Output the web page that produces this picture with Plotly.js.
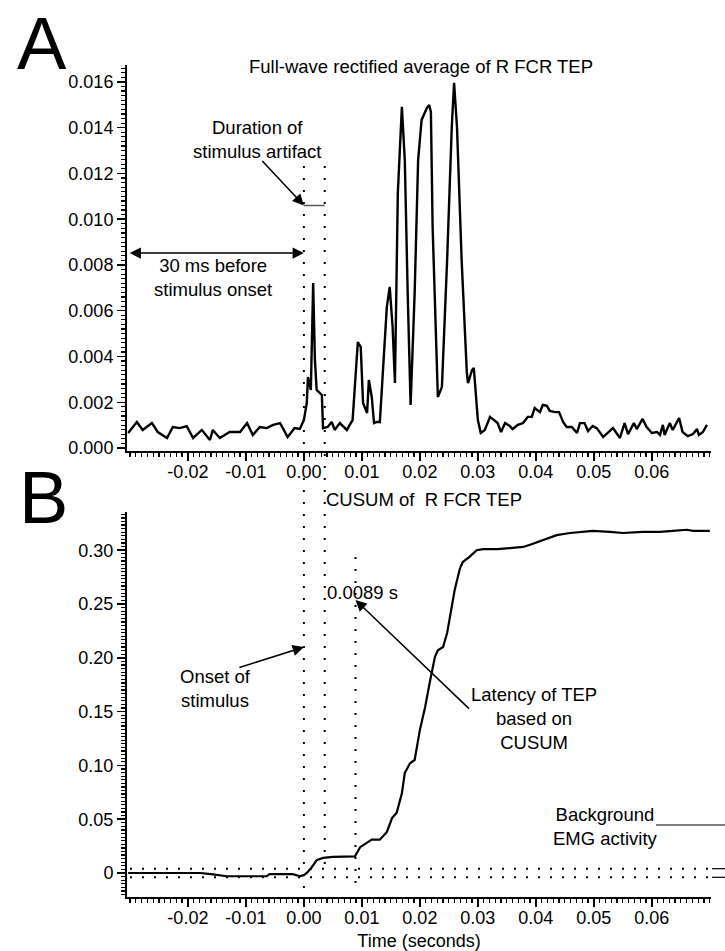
<!DOCTYPE html>
<html>
<head>
<meta charset="utf-8">
<script src="https://cdn.plot.ly/plotly-3.0.1.min.js"></script>
<style>html,body{margin:0;padding:0;background:#fff;}#chart{width:725px;height:951px;}</style>
</head>
<body>
<div id="chart"></div>
<script>
// ---------- data (time in seconds) ----------
const rectTime = [-0.0303,-0.0288,-0.0278,-0.0262,-0.0252,-0.0236,-0.0226,-0.0214,-0.0202,-0.0191,-0.0176,-0.0162,-0.0157,-0.0145,-0.0128,-0.0110,-0.0098,-0.0088,-0.0076,-0.0064,-0.0053,-0.0041,-0.0028,-0.0016,-0.0007,0.0000,0.0005,0.0007,0.0012,0.0016,0.0019,0.0022,0.0031,0.0033,0.0041,0.0048,0.0053,0.0062,0.0074,0.0084,0.0093,0.0098,0.0102,0.0109,0.0112,0.0117,0.0121,0.0126,0.0131,0.0136,0.0143,0.0148,0.0153,0.0157,0.0162,0.0169,0.0174,0.0179,0.0184,0.0191,0.0197,0.0203,0.0212,0.0216,0.0219,0.0222,0.0231,0.0238,0.0247,0.0255,0.0259,0.0264,0.0272,0.0281,0.0283,0.0290,0.0293,0.0300,0.0305,0.0312,0.0321,0.0328,0.0334,0.0340,0.0347,0.0355,0.0360,0.0369,0.0378,0.0386,0.0393,0.0398,0.0407,0.0412,0.0419,0.0424,0.0433,0.0440,0.0447,0.0453,0.0462,0.0471,0.0476,0.0484,0.0490,0.0498,0.0505,0.0516,0.0524,0.0533,0.0545,0.0553,0.0559,0.0569,0.0574,0.0584,0.0591,0.0600,0.0609,0.0614,0.0619,0.0622,0.0631,0.0636,0.0647,0.0653,0.0662,0.0671,0.0678,0.0681,0.0688,0.0695];
const rectValue = [0.00066,0.00114,0.00079,0.00109,0.00070,0.00044,0.00092,0.00087,0.00096,0.00044,0.00079,0.00035,0.00079,0.00044,0.00070,0.00070,0.00109,0.00057,0.00092,0.00087,0.00101,0.00109,0.00048,0.00087,0.00083,0.00122,0.00197,0.00310,0.00254,0.00721,0.00385,0.00254,0.00232,0.00087,0.00092,0.00114,0.00079,0.00109,0.00079,0.00122,0.00463,0.00442,0.00197,0.00153,0.00297,0.00223,0.00109,0.00114,0.00114,0.00341,0.00616,0.00704,0.00529,0.00284,0.01115,0.01491,0.01259,0.00678,0.00188,0.00678,0.01259,0.01434,0.01486,0.01499,0.01469,0.00966,0.00223,0.00267,0.00822,0.01403,0.01596,0.01403,0.00822,0.00328,0.00284,0.00341,0.00350,0.00122,0.00066,0.00079,0.00136,0.00122,0.00109,0.00070,0.00109,0.00096,0.00083,0.00101,0.00109,0.00136,0.00136,0.00175,0.00157,0.00188,0.00184,0.00162,0.00157,0.00157,0.00114,0.00092,0.00092,0.00066,0.00109,0.00109,0.00074,0.00096,0.00087,0.00048,0.00066,0.00087,0.00044,0.00109,0.00061,0.00109,0.00083,0.00127,0.00092,0.00066,0.00070,0.00057,0.00101,0.00057,0.00109,0.00079,0.00131,0.00070,0.00052,0.00061,0.00083,0.00057,0.00070,0.00101];

const cusumTime = [-0.0303,-0.0248,-0.0179,-0.0160,-0.0133,-0.0100,-0.0064,-0.0059,-0.0019,-0.0007,0.0000,0.0005,0.0014,0.0022,0.0033,0.0050,0.0067,0.0088,0.0097,0.0109,0.0117,0.0131,0.0143,0.0152,0.0160,0.0169,0.0174,0.0183,0.0191,0.0200,0.0209,0.0217,0.0226,0.0231,0.0240,0.0247,0.0252,0.0260,0.0269,0.0274,0.0286,0.0298,0.0309,0.0333,0.0355,0.0378,0.0390,0.0412,0.0436,0.0459,0.0498,0.0528,0.0550,0.0584,0.0614,0.0636,0.0660,0.0671,0.0700];
const cusumValue = [0.000,0.000,0.000,-0.001,-0.003,-0.003,-0.003,-0.001,-0.001,-0.003,-0.002,0.000,0.0056,0.012,0.014,0.0149,0.015,0.0155,0.024,0.028,0.031,0.031,0.038,0.051,0.056,0.074,0.093,0.102,0.105,0.133,0.154,0.177,0.201,0.207,0.210,0.223,0.238,0.263,0.283,0.289,0.294,0.300,0.301,0.301,0.302,0.303,0.305,0.309,0.314,0.316,0.318,0.317,0.316,0.317,0.317,0.318,0.319,0.318,0.318];

// markers
const stimulusOnset = 0.0;
const artifactEnd = 0.0036;
const artifactLevel = 0.0106;
const latency = 0.0089;
const preWindowStart = -0.0303;
const preWindowLevel = 0.00852;
const bandHigh = 0.004;
const bandLow = -0.004;
const onsetArrowY = 0.210;
const latencyArrowY = 0.2537;

// ticks
const xTickVals = [-0.02,-0.01,0.00,0.01,0.02,0.03,0.04,0.05,0.06];
const xTickText = ['-0.02','-0.01','0.00','0.01','0.02','0.03','0.04','0.05','0.06'];
const yTopTickVals = [0,0.002,0.004,0.006,0.008,0.010,0.012,0.014,0.016];
const yTopTickText = ['0.000','0.002','0.004','0.006','0.008','0.010','0.012','0.014','0.016'];
const yBotTickVals = [0,0.05,0.10,0.15,0.20,0.25,0.30];
const yBotTickText = ['0','0.05','0.10','0.15','0.20','0.25','0.30'];

// ---------- figure ----------
const W = 725, H = 951;
const px = v => v / W;
const py = v => 1 - v / H;
const FONT = 'Liberation Sans, Arial, Helvetica, sans-serif';

const traces = [
  {x: rectTime, y: rectValue, xaxis: 'x', yaxis: 'y', type: 'scatter', mode: 'lines',
   line: {color: '#000', width: 2.4}, hoverinfo: 'skip'},
  {x: cusumTime, y: cusumValue, xaxis: 'x2', yaxis: 'y2', type: 'scatter', mode: 'lines',
   line: {color: '#000', width: 2.2}, hoverinfo: 'skip'}
];

const xDomain = [px(127), px(711)];
const xRange = [-0.0305, 0.0702];

function xAxis(anchor, extra) {
  return Object.assign({
    domain: xDomain, anchor: anchor, range: xRange,
    tickmode: 'array', tickvals: xTickVals, ticktext: xTickText,
    ticks: 'outside', ticklen: 8, tickwidth: 1.5, tickcolor: '#000',
    ticklabelstandoff: -5,
    showline: true, linewidth: 2, linecolor: '#000',
    showgrid: false, zeroline: false,
    tickfont: {size: 18, color: '#000', family: FONT},
    minor: {tickmode: 'linear', tick0: 0, dtick: 0.001, ticks: 'outside', ticklen: 4,
            tickwidth: 1.2, tickcolor: '#000', showgrid: false}
  }, extra || {});
}
function yAxis(anchor, domain, range, vals, text, minorDtick) {
  return {
    domain: domain, anchor: anchor, range: range,
    tickmode: 'array', tickvals: vals, ticktext: text,
    ticks: 'outside', ticklen: 8, tickwidth: 1.5, tickcolor: '#000',
    showline: true, linewidth: 2, linecolor: '#000',
    showgrid: false, zeroline: false,
    tickfont: {size: 18, color: '#000', family: FONT},
    minor: {tickmode: 'linear', tick0: 0, dtick: minorDtick, ticks: 'outside', ticklen: 4,
            tickwidth: 1.2, tickcolor: '#000', showgrid: false}
  };
}

const dotLine = {color: '#000', width: 2, dash: '2px,10px'};

const shapes = [
  // vertical dotted markers spanning both panels
  {type: 'line', xref: 'x', yref: 'paper', x0: stimulusOnset, x1: stimulusOnset, y0: py(166), y1: py(891), line: dotLine},
  {type: 'line', xref: 'x', yref: 'paper', x0: artifactEnd, x1: artifactEnd, y0: py(166), y1: py(870), line: dotLine},
  {type: 'line', xref: 'x', yref: 'paper', x0: latency, x1: latency, y0: py(557), y1: py(891), line: dotLine},
  // artifact duration bar
  {type: 'line', xref: 'x', yref: 'y', x0: stimulusOnset, x1: artifactEnd, y0: artifactLevel, y1: artifactLevel,
   line: {color: '#555', width: 1.5}},
  // background band (dotted)
  {type: 'line', xref: 'paper', yref: 'y2', x0: px(130), x1: px(711), y0: bandHigh, y1: bandHigh, line: dotLine},
  {type: 'line', xref: 'paper', yref: 'y2', x0: px(130), x1: px(711), y0: bandLow, y1: bandLow, line: dotLine},
  {type: 'line', xref: 'paper', yref: 'y2', x0: px(712), x1: px(725), y0: bandHigh, y1: bandHigh, line: {color: '#000', width: 1.2}},
  {type: 'line', xref: 'paper', yref: 'y2', x0: px(712), x1: px(725), y0: bandLow, y1: bandLow, line: {color: '#000', width: 1.2}},
  // leader line for "Background EMG activity"
  {type: 'line', xref: 'paper', yref: 'paper', x0: px(656), x1: px(725), y0: py(825), y1: py(825), line: {color: '#000', width: 1.2}}
];

const txt = (text, x, y, xanchor, size, extra) => Object.assign({
  text: text, xref: 'paper', yref: 'paper', x: px(x), y: py(y),
  xanchor: xanchor || 'center', yanchor: 'middle', showarrow: false,
  font: {family: FONT, size: size || 18.5, color: '#000'}, align: 'center'
}, extra || {});

const arrowStyle = {showarrow: true, arrowhead: 2, arrowsize: 1.5, arrowwidth: 1.5, arrowcolor: '#000', text: ''};

const annotations = [
  txt('A', 15, 0, 'left', 74, {yanchor: 'top'}),
  txt('B', 17, 497, 'left', 74),
  txt('CUSUM of\u00a0 R FCR TEP', 424, 500, 'center', 18.5),
  txt('Duration of<br>stimulus artifact', 257, 140),
  txt('30 ms before<br>stimulus onset', 213, 278),
  txt('Onset of<br>stimulus', 216, 688),
  txt('0.0089 s', 325, 592, 'left'),
  txt('Latency of TEP<br>based on<br>CUSUM', 534, 718),
  txt('Background<br>EMG activity', 605, 826),
  // arrows
  Object.assign({xref: 'x', yref: 'y', x: stimulusOnset, y: artifactLevel, axref: 'pixel', ayref: 'pixel', ax: -43, ay: -46}, arrowStyle),
  Object.assign({xref: 'x', yref: 'y', x: stimulusOnset, y: preWindowLevel, axref: 'x', ayref: 'y', ax: preWindowStart, ay: preWindowLevel,
                 arrowside: 'end+start', startarrowhead: 2, startarrowsize: 1.5}, arrowStyle),
  Object.assign({xref: 'x2', yref: 'y2', x: stimulusOnset, y: onsetArrowY, axref: 'pixel', ayref: 'pixel', ax: -66, ay: 21}, arrowStyle),
  Object.assign({xref: 'x2', yref: 'y2', x: latency, y: latencyArrowY, axref: 'pixel', ayref: 'pixel', ax: 115, ay: 110}, arrowStyle)
];

const layout = {
  width: W, height: H,
  margin: {l: 0, r: 0, t: 0, b: 0},
  paper_bgcolor: '#fff', plot_bgcolor: '#fff',
  showlegend: false,
  font: {family: FONT, size: 18, color: '#000'},
  title: {text: 'Full-wave rectified average of R FCR TEP', x: px(421), xanchor: 'center', xref: 'paper',
          y: py(67), yanchor: 'middle', yref: 'container', font: {size: 18.5, family: FONT, color: '#000'}},
  xaxis: xAxis('y'),
  xaxis2: xAxis('y2', {title: {text: 'Time (seconds)', standoff: 9, font: {size: 18, family: FONT, color: '#000'}}}),
  yaxis: yAxis('x', [py(451), py(65)], [-0.00013, 0.01674], yTopTickVals, yTopTickText, 0.0002),
  yaxis2: yAxis('x2', [py(897), py(512)], [-0.0223, 0.3355], yBotTickVals, yBotTickText, 0.05 / 15),
  shapes: shapes,
  annotations: annotations
};

Plotly.newPlot('chart', traces, layout, {displayModeBar: false, staticPlot: true});
</script>
</body>
</html>
